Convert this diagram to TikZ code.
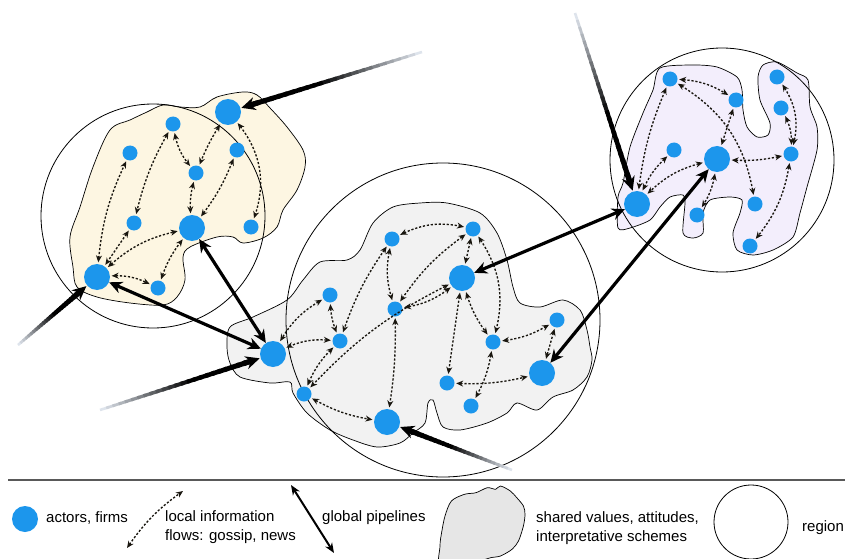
\documentclass[tikz,border=0pt]{standalone}
\usepackage{fontspec}
\setmainfont{Liberation Sans}
\usetikzlibrary{arrows.meta,calc,bending}

\definecolor{actor}{RGB}{28,150,236}
\definecolor{yel}{RGB}{253,246,226}
\definecolor{gry}{RGB}{242,242,242}
\definecolor{gryleg}{RGB}{230,230,230}
\definecolor{prp}{RGB}{243,238,252}
\definecolor{flowc}{RGB}{25,22,15}
\definecolor{gfar}{RGB}{222,228,236}

\tikzset{
 bigactor/.style={circle, fill=actor, minimum size=26pt, inner sep=0pt},
 smallactor/.style={circle, fill=actor, minimum size=15pt, inner sep=0pt},
 flow/.style={flowc, line width=1.35pt, dash pattern=on 2.2pt off 1.8pt,
   {Stealth[length=7pt,width=6pt]}-{Stealth[length=7pt,width=6pt]},
   shorten <=1.5pt, shorten >=1.5pt},
 pipe/.style={black, line width=3.2pt,
   {Stealth[length=13pt,width=12pt]}-{Stealth[length=13pt,width=12pt]}},
 regioncirc/.style={draw=black, line width=0.8pt},
 blob/.style={draw=black, line width=0.7pt},
 lbl/.style={font=\fontsize{15}{19}\selectfont, inner sep=0pt, anchor=west, align=left},
}

\newcommand\gradarrow[2]{%
  \coordinate (tmpT) at ($(#2)!14pt!(#1)$);
  \coordinate (tmpS) at ($(tmpT)!11pt!(#1)$);
  \foreach \i in {0,...,23}{
    \pgfmathsetmacro\pa{\i/24}
    \pgfmathsetmacro\pb{min(1,(\i+1.4)/24)}
    \pgfmathtruncatemacro\pc{min(100,\i*100/14)}
    \pgfmathsetmacro\lw{2.6+2.6*\i/23}
    \draw[line width=\lw pt, black!\pc!gfar] ($(#1)!\pa!(tmpS)$) -- ($(#1)!\pb!(tmpS)$);
  }
  \draw[line width=5.2pt, black, -{Stealth[length=14pt,width=13pt]}] ($(tmpT)!16pt!(#1)$) -- (tmpT);
}

\begin{document}
\begin{tikzpicture}[x=1pt,y=1pt]
\clip (0,0) rectangle (845,558);
\fill[white] (0,0) rectangle (845,558);

% ---------- blobs ----------
\draw[blob, fill=yel] plot[smooth cycle, tension=0.55] coordinates {
 (200,451) (217,461) (243,466) (257,463) (270,450) (287,431) (303,408) (305,391)
 (297,368) (283,348) (277,331) (263,320) (243,315) (233,321) (217,321) (190,311)
 (183,301) (185,278) (177,261) (163,253) (130,255) (97,261) (77,271) (73,291)
 (70,321) (80,351) (93,391) (110,428) (130,438) (147,446) (163,453) (180,451)};

\draw[blob, fill=gry] plot[smooth cycle, tension=0.5] coordinates {
 (230,231) (253,241) (287,258) (303,278) (320,296) (347,298) (360,308) (373,335)
 (393,351) (420,355) (447,355) (480,345) (497,325) (507,298) (513,271) (520,255)
 (540,251) (563,258) (580,248) (587,228) (590,211) (592,198) (587,181) (573,168)
 (553,161) (537,148) (517,155) (507,145) (487,135) (460,128) (443,131) (437,145)
 (433,158) (428,155) (425,135) (413,125) (400,115) (377,111) (353,118) (330,128)
 (307,145) (293,165) (290,176) (270,175) (240,181) (230,195) (227,211)};

\draw[blob, fill=prp] plot[smooth cycle, tension=0.45] coordinates {
 (660,490) (693,493) (717,491) (737,481) (742,468) (743,448) (747,431) (757,421)
 (768,423) (770,435) (760,458) (758,481) (763,493) (777,496) (797,485) (808,478)
 (810,451) (817,431) (817,408) (807,371) (800,345) (793,321) (773,308) (753,303)
 (737,308) (733,325) (740,345) (742,358) (730,361) (710,358) (703,345) (703,325)
 (693,320) (683,325) (685,355) (683,363) (670,361) (660,351) (650,338) (630,330)
 (618,330) (618,361) (623,375) (630,411) (643,445) (653,468)};

% ---------- regions ----------
\draw[regioncirc] (153,342) circle[radius=112];
\draw[regioncirc] (443,238) circle[radius=157];
\draw[regioncirc] (722,398) circle[radius=112];

% ---------- actors ----------
\node[bigactor] (a1) at (228,446) {};
\node[smallactor] (a2) at (173,434) {};
\node[smallactor] (a3) at (130,405) {};
\node[smallactor] (a4) at (237,408) {};
\node[smallactor] (a5) at (196,385) {};
\node[smallactor] (a6) at (134,335) {};
\node[bigactor] (a7) at (192,330) {};
\node[smallactor] (a8) at (251,331) {};
\node[bigactor] (a9) at (97,281) {};
\node[smallactor] (a10) at (158,270) {};

\node[bigactor] (b1) at (273,204) {};
\node[smallactor] (b2) at (330,263) {};
\node[smallactor] (b3) at (340,217) {};
\node[smallactor] (b4) at (392,319) {};
\node[smallactor] (b5) at (473,329) {};
\node[bigactor] (b6) at (462,280) {};
\node[smallactor] (b7) at (395,249) {};
\node[smallactor] (b8) at (304,164) {};
\node[bigactor] (b9) at (387,136) {};
\node[smallactor] (b10) at (447,175) {};
\node[smallactor] (b11) at (493,216) {};
\node[smallactor] (b12) at (557,238) {};
\node[bigactor] (b13) at (542,185) {};
\node[smallactor] (b14) at (471,152) {};

\node[bigactor] (c1) at (637,354) {};
\node[smallactor] (c2) at (670,479) {};
\node[smallactor] (c3) at (736,458) {};
\node[smallactor] (c4) at (777,481) {};
\node[smallactor] (c5) at (781,450) {};
\node[smallactor] (c6) at (674,408) {};
\node[bigactor] (c7) at (717,399) {};
\node[smallactor] (c8) at (791,404) {};
\node[smallactor] (c9) at (697,343) {};
\node[smallactor] (c10) at (755,354) {};
\node[smallactor] (c11) at (750,312) {};

% ---------- local flows ----------
\draw[flow] (a9) to[bend left=10] (a3);
\draw[flow] (a2) to[bend right=8] (a6);
\draw[flow] (a6) -- (a9);
\draw[flow] (a9) to[bend left=15] (a7);
\draw[flow] (a10) to[bend left=10] (a7);
\draw[flow] (a9) to[bend left=15] (a10);
\draw[flow] (a2) to[bend right=15] (a5);
\draw[flow] (a5) to[bend right=10] (a7);
\draw[flow] (a1) to[bend right=5] (a5);
\draw[flow] (a4) to[bend left=8] (a7);
\draw[flow] (a1) to[bend left=30] (a8);

\draw[flow] (b4) to[bend left=20] (b5);
\draw[flow] (b4) to[bend right=15] (b7);
\draw[flow] (b4) to[bend right=8] (b3);
\draw[flow] (b5) -- (b6);
\draw[flow] (b5) to[bend right=10] (b7);
\draw[flow] (b5) to[bend left=25] (b11);
\draw[flow] (b6) to[bend left=15] (b7);
\draw[flow] (b6) to[bend right=10] (b8);
\draw[flow] (b6) -- (b10);
\draw[flow] (b6) to[bend right=10] (b11);
\draw[flow] (b7) to[bend left=5] (b9);
\draw[flow] (b2) to[bend right=15] (b1);
\draw[flow] (b2) to[bend right=10] (b3);
\draw[flow] (b3) to[bend right=15] (b1);
\draw[flow] (b3) to[bend right=12] (b8);
\draw[flow] (b8) to[bend right=10] (b9);
\draw[flow] (b11) to[bend right=12] (b12);
\draw[flow] (b11) to[bend left=10] (b14);
\draw[flow] (b10) to[bend right=8] (b13);
\draw[flow] (b12) -- (b13);

\draw[flow] (c2) to[bend left=15] (c3);
\draw[flow] (c2) to[bend left=25] (c10);
\draw[flow] (c2) to[bend right=8] (c1);
\draw[flow] (c3) -- (c7);
\draw[flow] (c6) to[bend right=12] (c1);
\draw[flow] (c7) to[bend right=15] (c1);
\draw[flow] (c7) to[bend right=8] (c8);
\draw[flow] (c7) to[bend left=12] (c9);
\draw[flow] (c4) to[bend left=25] (c8);
\draw[flow] (c5) to[bend left=15] (c8);
\draw[flow] (c8) to[bend left=15] (c11);

% ---------- global pipelines ----------
\draw[pipe] (a7) -- (b1);
\draw[pipe] (a9) -- (b1);
\draw[pipe] (b6) -- (c1);
\draw[pipe] (b13) -- (c7);

% ---------- incoming pipelines ----------
\coordinate (g1) at (422,506);
\coordinate (g2) at (18,213);
\coordinate (g3) at (100,148);
\coordinate (g4) at (512,88);
\coordinate (g5) at (575,545);
\gradarrow{g1}{a1}
\gradarrow{g2}{a9}
\gradarrow{g3}{b1}
\gradarrow{g4}{b9}
\gradarrow{g5}{c1}

% ---------- legend ----------
\coordinate (ll1) at (8,78);
\coordinate (ll2) at (845,78);
\draw[black!65, line width=1.2pt] (ll1) -- (ll2);

\node[bigactor] (legA) at (25,39) {};
\node[lbl] (legAt) at (46,40) {actors, firms};

\coordinate (lf1) at (127,10);
\coordinate (lf2) at (183,67);
\draw[flow, shorten <=0pt, shorten >=0pt] (lf1) to[bend left=10] (lf2);
\node[lbl] (legF) at (165,30.5) {local information\\flows: gossip, news};

\coordinate (lp1) at (291,73);
\coordinate (lp2) at (334,5);
\draw[black, line width=2pt, {Stealth[length=10pt,width=8pt]}-{Stealth[length=10pt,width=8pt]}] (lp1) -- (lp2);
\node[lbl] (legP) at (322,40) {global pipelines};

\draw[blob, fill=gryleg] plot[smooth cycle, tension=0.5] coordinates {
 (451.4,57) (464.5,63.7) (476,65.3) (487.4,70.3) (495.6,68.7) (500.5,72) (510.3,67)
 (516.8,60.3) (523.4,52) (525,43.7) (523.4,32) (518.5,17) (512,8.7) (500.5,2)
 (490.7,0.3) (482.5,-3) (482.5,-10) (441.6,-10) (440,12) (441.6,25.3) (445,42)};
\node[lbl] (legS) at (536,30) {shared values, attitudes,\\interpretative schemes};

\draw[regioncirc] (751,36) circle[radius=37];
\node[lbl] (legR) at (802,30) {region};
\end{tikzpicture}
\end{document}
